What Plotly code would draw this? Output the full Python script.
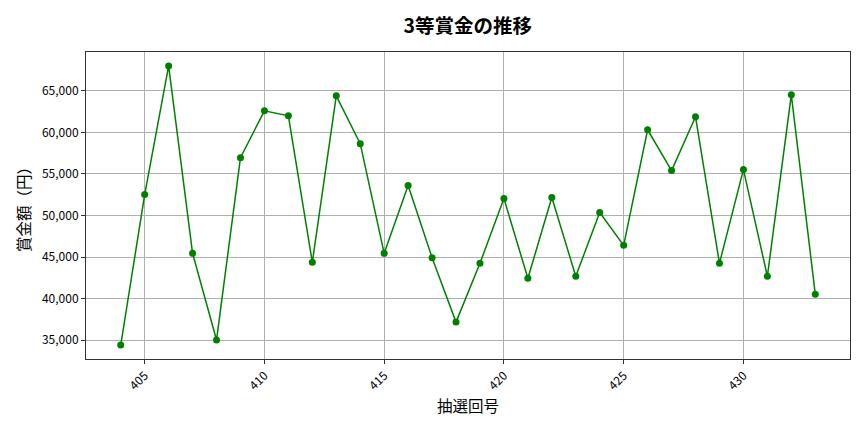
import plotly.graph_objects as go

# 抽選回号と3等賞金（円）
draws = list(range(404, 434))
prize = [34400, 52520, 68000, 45440, 35000, 56960, 62600, 62000, 44360, 64400,
         58640, 45440, 53600, 44920, 37160, 44240, 52040, 42440, 52160, 42680,
         50360, 46400, 60320, 55400, 61880, 44240, 55520, 42680, 64520, 40520]

font_name = "Noto Sans CJK JP"

fig = go.Figure()
fig.add_trace(go.Scatter(x=draws, y=prize, mode="lines+markers",
                         line=dict(color="green", width=1.5),
                         marker=dict(color="green", size=7)))

# the page has an 8px body margin, so the figure is a bit smaller than the window
fig.update_layout(
    width=856, height=424,
    margin=dict(l=78, r=14, t=44, b=73),
    plot_bgcolor="white", paper_bgcolor="white",
    showlegend=False,
    font=dict(family=font_name, color="black", size=12),
    title=dict(text="<b>3等賞金の推移</b>", x=0.537, xanchor="center",
               y=0.956, yanchor="middle", font=dict(size=19.5)),
)
fig.update_xaxes(
    range=[402.55, 434.45], tickvals=[405, 410, 415, 420, 425, 430],
    tickangle=-45, ticks="outside", ticklen=4, tickcolor="#333",
    showgrid=True, gridcolor="#b0b0b0", gridwidth=1,
    showline=True, linecolor="#333", mirror=True, zeroline=False,
    automargin=False,
    title=dict(text="抽選回号", font=dict(size=15.5), standoff=9),
)
fig.update_yaxes(
    range=[32720, 69680], tickvals=[35000, 40000, 45000, 50000, 55000, 60000, 65000],
    tickformat=",d", ticks="outside", ticklen=4, tickcolor="#333",
    showgrid=True, gridcolor="#b0b0b0", gridwidth=1,
    showline=True, linecolor="#333", mirror=True, zeroline=False,
    automargin=False,
    title=dict(text="賞金額（円）", font=dict(size=15.5), standoff=7),
)

fig.write_html("out.html")
